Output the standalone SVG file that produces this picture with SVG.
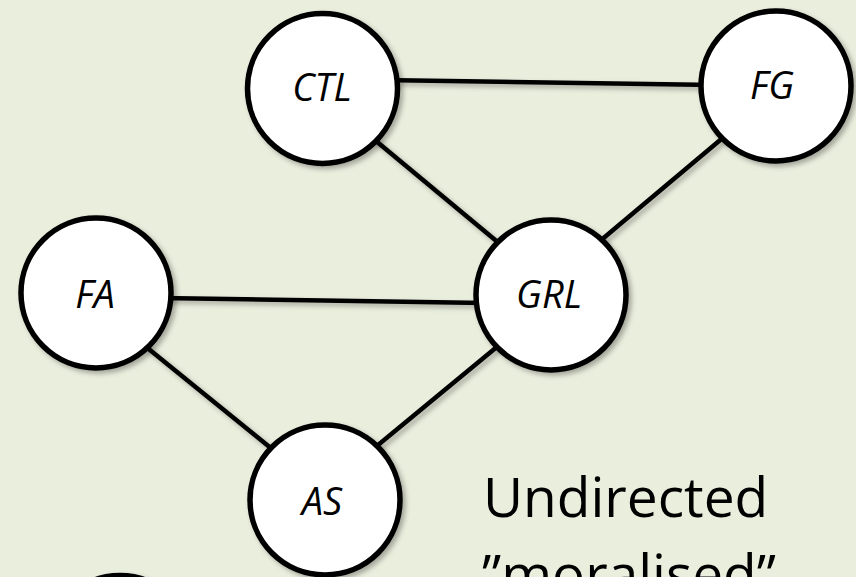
<svg xmlns="http://www.w3.org/2000/svg" width="856" height="577" viewBox="0 0 856 577">
<defs>
<filter id="sh" x="-20%" y="-20%" width="140%" height="140%">
<feDropShadow dx="3" dy="3" stdDeviation="2.5" flood-color="#000" flood-opacity="0.3"/>
</filter>
<style>
.node circle{fill:#fff;stroke:#000;stroke-width:5.5;filter:url(#sh)}
.node text{font-family:"Open Sans","Liberation Sans",sans-serif;font-style:italic;font-size:38px;fill:#000;text-anchor:middle}
.edges line{stroke:#000;stroke-width:4.5;stroke-linecap:butt}
.cap{font-family:"Open Sans","Liberation Sans",sans-serif;font-size:55px;fill:#000}
</style>
</defs>
<rect width="856" height="577" fill="#EAEEDD"/>
<g id="connectors" class="edges" filter="url(#sh)">
<line x1="380" y1="80" x2="715" y2="85"/>
<line x1="370" y1="136" x2="500" y2="244"/>
<line x1="725" y1="136" x2="600" y2="241"/>
<line x1="160" y1="298" x2="485" y2="303"/>
<line x1="145" y1="346" x2="272" y2="449"/>
<line x1="498" y1="346" x2="372" y2="450"/>
</g>
<g id="node-CTL" class="node"><circle cx="322.5" cy="88.5" r="75"/><text x="322" y="101">CTL</text></g>
<g id="node-FG" class="node"><circle cx="776" cy="86" r="75"/><text x="772" y="99">FG</text></g>
<g id="node-FA" class="node"><circle cx="96" cy="293" r="75"/><text x="95" y="308">FA</text></g>
<g id="node-GRL" class="node"><circle cx="551" cy="295" r="75"/><text x="549" y="308">GRL</text></g>
<g id="node-AS" class="node"><circle cx="325" cy="500" r="75"/><text x="322" y="515">AS</text></g>
<g id="node-bottom" class="node"><circle cx="120" cy="650.5" r="75"/></g>
<text class="cap" x="483" y="517">Undirected</text>
<text class="cap" x="482" y="594">”moralised”</text>
</svg>
